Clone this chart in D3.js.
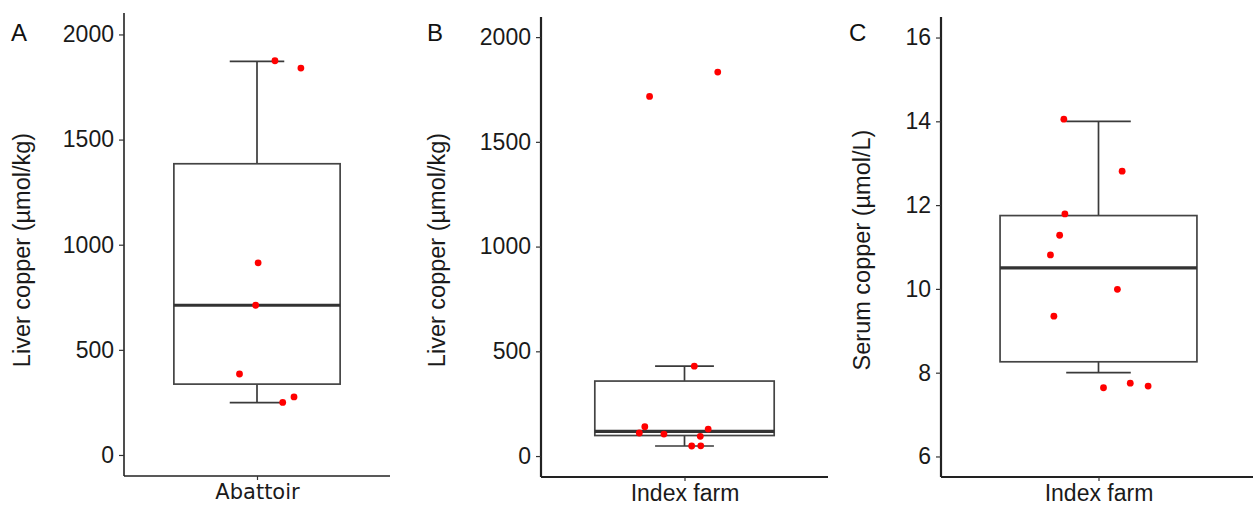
<!DOCTYPE html>
<html>
<head>
<meta charset="utf-8">
<script src="https://cdn.jsdelivr.net/npm/d3@7"></script>
<style>
    body { margin: 0; background: #ffffff; }
    svg { display: block; }
</style>
</head>
<body>
<svg id="chart"></svg>
<script>
// Panel A - liver copper at the abattoir
let liverAbattoir = [1875, 1840, 914, 712, 385, 250, 276];
let jitterAbattoir = [0.081, 0.198, 0.005, -0.006, -0.079, 0.116, 0.167];
// lower whisker, Q1, median, Q3, upper whisker
let boxAbattoir = [249, 337, 712, 1385, 1872];

// Panel B - liver copper on the index farm
let liverIndex = [1717, 1833, 429, 140, 110, 105, 129, 94, 48, 49];
let jitterLiverIndex = [-0.146, 0.139, 0.041, -0.166, -0.189, -0.086, 0.099, 0.066, 0.030, 0.068];
let boxLiverIndex = [48, 98, 118, 358, 429];

// Panel C - serum copper on the index farm
let serumIndex = [14.05, 12.81, 11.79, 11.28, 10.81, 9.99, 9.35, 7.64, 7.75, 7.68];
let jitterSerumIndex = [-0.132, 0.090, -0.128, -0.148, -0.183, 0.072, -0.170, 0.019, 0.121, 0.189];
let boxSerumIndex = [8.0, 8.26, 10.5, 11.75, 14.0];

let liverTicks = [0, 500, 1000, 1500, 2000];
let serumTicks = [6, 8, 10, 12, 14, 16];

let width = 1253;
let height = 505;

let svg = d3.select("#chart").attr("width", width).attr("height", height);

/*
 * Draws one box plot panel with jittered points on top.
 */
function drawPanel(p){
    let g = svg.append("g");

    // one category at 1, ggplot style expansion of 0.6 each side
    let x = d3.scaleLinear().domain([0.4, 1.6]).range([p.left, p.right]);
    let y = d3.scaleLinear().domain(p.yDomain).range([p.bottom, p.top]);

    let boxHalf = 0.375;
    let capHalf = 0.123;
    let s = p.box;

    // whiskers
    g.append("line")
        .attr("x1", x(1)).attr("x2", x(1))
        .attr("y1", y(s[3])).attr("y2", y(s[4]))
        .attr("stroke", "#3a3a3a").attr("stroke-width", 1.7);
    g.append("line")
        .attr("x1", x(1)).attr("x2", x(1))
        .attr("y1", y(s[0])).attr("y2", y(s[1]))
        .attr("stroke", "#3a3a3a").attr("stroke-width", 1.7);
    g.selectAll(".cap")
        .data([s[0], s[4]])
        .enter()
        .append("line")
        .attr("class", "cap")
        .attr("x1", x(1 - capHalf)).attr("x2", x(1 + capHalf))
        .attr("y1", function(v){ return y(v); })
        .attr("y2", function(v){ return y(v); })
        .attr("stroke", "#3a3a3a").attr("stroke-width", 1.7);

    // box
    g.append("rect")
        .attr("x", x(1 - boxHalf))
        .attr("y", y(s[3]))
        .attr("width", x(1 + boxHalf) - x(1 - boxHalf))
        .attr("height", y(s[1]) - y(s[3]))
        .attr("fill", "#ffffff")
        .attr("stroke", "#444444")
        .attr("stroke-width", 1.7);

    // median
    g.append("line")
        .attr("x1", x(1 - boxHalf)).attr("x2", x(1 + boxHalf))
        .attr("y1", y(s[2])).attr("y2", y(s[2]))
        .attr("stroke", "#333333").attr("stroke-width", 3.2);

    // points
    g.selectAll(".pt")
        .data(p.values)
        .enter()
        .append("circle")
        .attr("class", "pt")
        .attr("cx", function(v, i){ return x(1 + p.jitter[i]); })
        .attr("cy", function(v){ return y(v); })
        .attr("r", 3.4)
        .attr("fill", "#ff0000");

    // axes
    let yAxis = d3.axisLeft(y).tickValues(p.ticks).tickFormat(d3.format("d")).tickSize(5).tickPadding(5);
    let ya = g.append("g").attr("transform", "translate(" + p.left + ",0)").call(yAxis);
    ya.select(".domain").attr("d", "M0," + p.top + "V" + p.bottom);

    let xAxis = d3.axisBottom(x).tickValues([1]).tickFormat(function(){ return p.category; }).tickSize(4).tickPadding(4);
    let xa = g.append("g").attr("transform", "translate(0," + p.bottom + ")").call(xAxis);
    xa.select(".domain").attr("d", "M" + p.left + ",0H" + p.right);

    [ya, xa].forEach(function(a){
        a.select(".domain").attr("stroke", "#222222").attr("stroke-width", p.axisWidth);
        a.selectAll(".tick line").attr("stroke", "#333333").attr("stroke-width", 1.2);
        a.selectAll("text").attr("fill", "#1a1a1a");
    });
    ya.selectAll("text").style("font-family", "'Liberation Sans', Arial, sans-serif").style("font-size", "23px");
    xa.selectAll("text").style("font-family", p.catFont).style("font-size", p.catSize);

    // y title
    g.append("text")
        .attr("transform", "translate(" + p.titleX + "," + 250 + ") rotate(-90)")
        .attr("text-anchor", "middle")
        .attr("dy", "0.35em")
        .style("font-family", "'Liberation Sans', Arial, sans-serif")
        .style("font-size", "23.5px")
        .attr("fill", "#1a1a1a")
        .text(p.yTitle);

    // panel letter
    g.append("text")
        .attr("x", p.letterX)
        .attr("y", 41)
        .style("font-family", "'Liberation Sans', Arial, sans-serif")
        .style("font-size", "24px")
        .attr("fill", "#111111")
        .text(p.letter);
}

drawPanel({
    letter: "A", letterX: 11,
    left: 124, right: 390, top: 13, bottom: 476,
    yDomain: [-100, 2102], ticks: liverTicks,
    values: liverAbattoir, jitter: jitterAbattoir, box: boxAbattoir,
    category: "Abattoir", catFont: "'DejaVu Sans', sans-serif", catSize: "21px",
    yTitle: "Liver copper (\u00b5mol/kg)", titleX: 22, axisWidth: 1.6
});

drawPanel({
    letter: "B", letterX: 427,
    left: 541, right: 828, top: 17, bottom: 477,
    yDomain: [-100, 2096], ticks: liverTicks,
    values: liverIndex, jitter: jitterLiverIndex, box: boxLiverIndex,
    category: "Index farm", catFont: "'Liberation Sans', Arial, sans-serif", catSize: "23px",
    yTitle: "Liver copper (\u00b5mol/kg)", titleX: 437, axisWidth: 2.2
});

drawPanel({
    letter: "C", letterX: 849,
    left: 941, right: 1256, top: 17, bottom: 477,
    yDomain: [5.51, 16.49], ticks: serumTicks,
    values: serumIndex, jitter: jitterSerumIndex, box: boxSerumIndex,
    category: "Index farm", catFont: "'Liberation Sans', Arial, sans-serif", catSize: "23px",
    yTitle: "Serum copper (\u00b5mol/L)", titleX: 862, axisWidth: 2.2
});
</script>
</body>
</html>
